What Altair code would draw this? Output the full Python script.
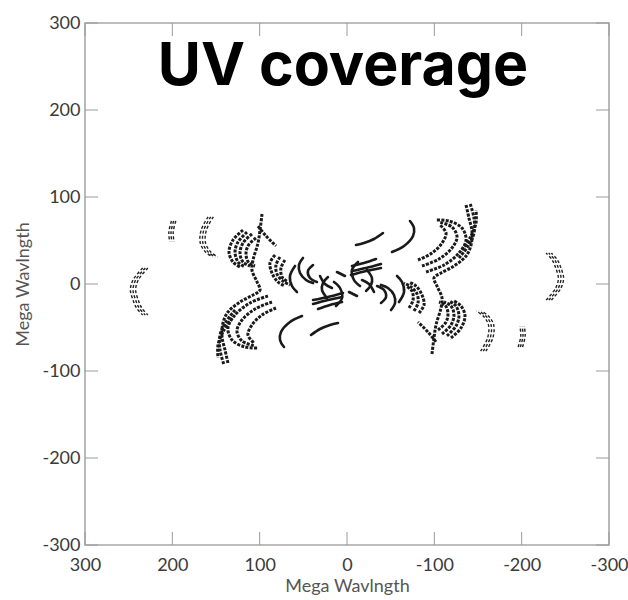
import altair as alt
import pandas as pd

# ---- (u, v) points of each baseline track (Mega wavelengths), one half of the plane;
# the conjugate half (-u, -v) is added below.
A1 = [(228, 18.4), (239, 4.6), (242, -6.9), (239, -18.4), (235, -27.6), (228, -35.6)]
A2 = [(231, 18.4), (242, 4.6), (245, -6.9), (242, -18.4), (238, -27.6), (231, -35.6)]
A3 = [(234, 18.4), (245, 4.6), (248, -6.9), (245, -18.4), (241, -27.6), (234, -35.6)]
B1 = [(196, 72.4), (199, 59.8), (198, 48.3)]
B2 = [(198.5, 72.4), (201.5, 59.8), (200.5, 48.3)]
B3 = [(201, 72.4), (204, 59.8), (203, 48.3)]
C1 = [(153, 77.2), (161, 62.0), (162, 47.1), (156, 36.8), (148, 31.0)]
C2 = [(156, 77.2), (164, 62.0), (165, 47.1), (159, 36.8), (151, 31.0)]
C3 = [(159, 77.2), (167, 62.0), (168, 47.1), (162, 36.8), (154, 31.0)]
D1 = [(119.1, 62.0), (130.5, 50.6), (135.1, 36.8), (130.5, 25.3), (122.5, 19.5)]
D2 = [(114.5, 59.7), (124.8, 48.3), (128.2, 36.8), (124.8, 25.3), (116.8, 19.5)]
D3 = [(108.8, 57.5), (119.1, 47.1), (122.5, 35.6), (119.1, 25.3), (111.1, 20.7)]
D4 = [(104.2, 52.9), (113.4, 43.7), (115.6, 33.3), (112.2, 24.1), (105.3, 20.7)]
S = [(97.3, 80.4), (99.6, 62.0), (101.9, 47.1), (107.6, 27.6), (108.8, 16.1), (103.0, 2.3),
     (99.6, -6.9), (107.6, -12.6), (122.5, -20.7), (136.3, -32.2), (142.0, -44.8),
     (143.1, -60.9), (139.7, -75.8), (136.3, -90.8)]
X = [(101.9, 66.6), (92.7, 55.2), (81.3, 43.7)]
E1 = [(82.4, 33.3), (88.2, 24.1), (85.9, 12.6), (79.0, 2.3), (71.0, -2.3)]
E2 = [(76.7, 31.0), (81.3, 21.8), (80.2, 11.5), (73.3, 3.4), (65.3, -1.1)]
E3 = [(71.0, 27.6), (75.6, 18.4), (74.4, 8.0), (67.6, 2.3)]
G1 = [(90.5, -13.8), (111.1, -21.8), (128.2, -35.6), (136.3, -50.6), (131.7, -64.3),
      (116.8, -72.4), (101.9, -73.5)]
G2 = [(85.9, -20.7), (105.3, -28.7), (120.2, -41.4), (126.0, -54.0), (120.2, -65.5),
      (105.3, -71.2)]
G3 = [(81.3, -27.6), (97.3, -35.6), (108.8, -47.1), (113.4, -58.6), (106.5, -67.8)]
K1 = [(128.2, -29.9), (138.6, -43.7), (145.4, -58.6), (145.4, -75.8), (140.8, -93.1)]
K2 = [(131.7, -39.1), (140.8, -52.9), (147.7, -70.1), (147.7, -85.0)]
F1 = [(50.4, 29.9), (55.0, 21.8), (53.8, 12.6), (46.9, 4.6), (38.9, 1.1)]
F2 = [(59.5, 20.7), (65.3, 9.2), (63.0, -2.3), (57.3, -9.2)]
F3 = [(38.9, 21.8), (44.7, 14.9), (42.4, 6.9), (34.4, 2.3)]
F4 = [(30.9, 9.2), (25.2, 0.0), (17.2, -4.6)]
F5 = [(11.5, 13.8), (2.3, 9.2)]
M1 = [(-22.9, 16.1), (-28.6, 6.9), (-27.5, -1.1), (-21.8, -8.0)]
M2 = [(-12.6, 25.3), (-5.7, 16.1), (-8.0, 4.6), (-14.9, -2.3)]
L1 = [(38.9, -18.4), (21.8, -14.9), (4.6, -10.3)]
L2 = [(38.9, -23.0), (21.8, -18.4), (5.7, -14.9)]
L3 = [(33.2, -28.7), (19.5, -24.1), (5.7, -20.7)]
I = [(41.2, -58.6), (30.9, -51.7), (19.5, -47.1), (10.3, -44.8)]
H = [(51.5, -36.8), (65.3, -43.7), (75.6, -55.2), (76.7, -64.3), (72.1, -72.4)]

TRACKS = {
    "A1": A1, "A2": A2, "A3": A3, "B1": B1, "B2": B2, "B3": B3,
    "C1": C1, "C2": C2, "C3": C3, "D1": D1, "D2": D2, "D3": D3, "D4": D4,
    "S": S, "X": X, "E1": E1, "E2": E2, "E3": E3, "G1": G1, "G2": G2, "G3": G3,
    "K1": K1, "K2": K2, "F1": F1, "F2": F2, "F3": F3, "F4": F4, "F5": F5,
    "M1": M1, "M2": M2, "L1": L1, "L2": L2, "L3": L3, "I": I, "H": H,
}
FINE = ["A1", "A2", "A3", "B1", "B2", "B3", "C1", "C2", "C3"]
SOLID = ["F1", "F2", "F3", "F4", "F5", "M1", "M2", "L1", "L2", "L3", "I", "H"]

TICKS = [-300, -200, -100, 0, 100, 200, 300]
TITLE = "UV coverage"
AXIS_TITLE = "Mega Wavlngth"

rows = []
for name, pts in TRACKS.items():
    group = "fine" if name in FINE else ("solid" if name in SOLID else "dash")
    for i, (u, v) in enumerate(pts):
        rows.append({"track": name, "idx": i, "u": u, "v": v, "group": group})
        rows.append({"track": name + "_conj", "idx": i, "u": -u, "v": -v, "group": group})
df = pd.DataFrame(rows)
tdf = pd.DataFrame({"u": TICKS, "v": TICKS})

W, H_ = 524, 522
FONT = "Lato"
LABEL_EXPR = "'' + datum.value"

xscale = alt.Scale(domain=[-300, 300], reverse=True, nice=False)
yscale = alt.Scale(domain=[-300, 300], nice=False)

xaxis = alt.Axis(values=TICKS, title=AXIS_TITLE, tickSize=0, labelPadding=11, grid=False,
                 domain=False, labelFont=FONT, labelFontSize=18, labelColor="#3a3a3a",
                 titleFont=FONT, titleFontSize=18, titleFontWeight="normal",
                 titleColor="#555555", titlePadding=3, labelFlush=False,
                 labelExpr=LABEL_EXPR)
yaxis = alt.Axis(values=TICKS, title=AXIS_TITLE, tickSize=0, labelPadding=5, grid=False,
                 domain=False, labelFont=FONT, labelFontSize=18, labelColor="#3a3a3a",
                 titleFont=FONT, titleFontSize=18, titleFontWeight="normal",
                 titleColor="#555555", titlePadding=9, labelFlush=False,
                 labelExpr=LABEL_EXPR)

X_ENC = alt.X("u:Q", scale=xscale, axis=xaxis)
Y_ENC = alt.Y("v:Q", scale=yscale, axis=yaxis)

base = alt.Chart(df).encode(x=X_ENC, y=Y_ENC, detail="track:N", order="idx:Q")

fine = base.transform_filter(alt.datum.group == "fine").mark_line(
    color="#222222", strokeWidth=1.4, strokeDash=[3, 2.2], interpolate="catmull-rom")
dash = base.transform_filter(alt.datum.group == "dash").mark_line(
    color="#1a1a1a", strokeWidth=3.0, strokeDash=[3, 1.3], interpolate="catmull-rom")
solid = base.transform_filter(alt.datum.group == "solid").mark_line(
    color="#1a1a1a", strokeWidth=2.6, interpolate="catmull-rom", strokeCap="round")

tick_col = "#9a9a9a"
tb = alt.Chart(tdf).mark_rule(color=tick_col, strokeWidth=1).encode(
    x=X_ENC, y=alt.value(H_), y2=alt.value(H_ - 13))
tt = alt.Chart(tdf).mark_rule(color=tick_col, strokeWidth=1).encode(
    x=X_ENC, y=alt.value(0), y2=alt.value(13))
tl = alt.Chart(tdf).mark_rule(color=tick_col, strokeWidth=1).encode(
    y=Y_ENC, x=alt.value(0), x2=alt.value(13))
tr = alt.Chart(tdf).mark_rule(color=tick_col, strokeWidth=1).encode(
    y=Y_ENC, x=alt.value(W), x2=alt.value(W - 13))

title = alt.Chart(pd.DataFrame({"s": [TITLE]})).mark_text(
    font="Inter", fontWeight="bold", fontSize=59, color="#000000",
    baseline="alphabetic", align="center").encode(
    text="s:N", x=alt.value(258), y=alt.value(62))

chart = alt.layer(fine, dash, solid, tb, tt, tl, tr, title).properties(
    width=W, height=H_,
    autosize=alt.AutoSizeParams(type="none"),
    padding={"left": 85, "top": 23, "right": 19, "bottom": 55},
).configure_view(stroke="#a8a8a8", strokeWidth=1.6)

chart.save("out.html", embed_options={"renderer": "svg", "actions": False})
